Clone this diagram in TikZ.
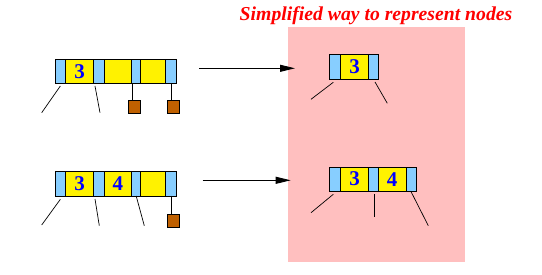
\documentclass[tikz,border=0pt]{standalone}
\usepackage{fontspec}
\setmainfont{Liberation Serif}
\usetikzlibrary{arrows.meta}
\definecolor{pinkbg}{HTML}{FFBFBF}
\definecolor{ltblue}{HTML}{87CEFF}
\definecolor{brownsq}{HTML}{BF6000}
\definecolor{numblue}{HTML}{0000FF}
\tikzset{
  bcell/.style={draw=black, line width=0.8pt, fill=ltblue, inner sep=0pt, outer sep=0pt, anchor=north west},
  ycell/.style={draw=black, line width=0.8pt, fill=yellow, inner sep=0pt, outer sep=0pt, anchor=north west,
    font=\fontsize{21}{21}\selectfont\bfseries, text=numblue},
  sq/.style={draw=black, line width=0.6pt, fill=brownsq, inner sep=0pt, outer sep=0pt, anchor=north west,
    minimum width=12.4pt, minimum height=12.6pt},
  ptr/.style={draw=black, line width=0.7pt},
  arr/.style={draw=black, line width=0.9pt, -{Triangle[length=15pt,width=7pt]}},
  title/.style={font=\fontsize{19.7}{20}\selectfont\bfseries\itshape, text=red, anchor=base, inner sep=0pt}
}
\begin{document}
\begin{tikzpicture}[x=1pt,y=-1pt]
\useasboundingbox (0,0) rectangle (542,275);
\fill[white] (0,0) rectangle (542,275);
\fill[pinkbg] (288,27) rectangle (465,261.7);
\node[title] (title) at (376,20.8) {Simplified way to represent nodes};

% top-left node
\node[bcell, minimum width=10.7pt, minimum height=24pt] (tlb1) at (55,59.3) {};
\node[ycell, minimum width=27.6pt, minimum height=24pt] (tly1) at (65.7,59.3) {3};
\node[bcell, minimum width=10.7pt, minimum height=24pt] (tlb2) at (93.3,59.3) {};
\node[ycell, minimum width=27.7pt, minimum height=24pt] (tly2) at (104,59.3) {};
\node[bcell, minimum width=9pt, minimum height=24pt] (tlb3) at (131.7,59.3) {};
\node[ycell, minimum width=25pt, minimum height=24pt] (tly3) at (140.7,59.3) {};
\node[bcell, minimum width=11pt, minimum height=24pt] (tlb4) at (165.7,59.3) {};
\node[sq] (tlsq1) at (128.3,100.7) {};
\node[sq] (tlsq2) at (167.3,100.7) {};
\coordinate (tlc1) at (41.7,112.7);
\coordinate (tlc2) at (100,112.7);
\draw[ptr] ([yshift=-2.7pt]tlb1.south) -- (tlc1);
\draw[ptr] ([xshift=1.7pt,yshift=-2.7pt]tlb2.south west) -- (tlc2);
\draw[ptr] ([xshift=-2pt]tlsq1.north) -- ([xshift=-2pt]tlsq1.north |- tlb3.south);
\draw[ptr] (tlb4.south) -- (tlb4.south |- tlsq2.north);

% bottom-left node
\node[bcell, minimum width=10.7pt, minimum height=24.3pt] (blb1) at (55,171.7) {};
\node[ycell, minimum width=27.6pt, minimum height=24.3pt] (bly1) at (65.7,171.7) {3};
\node[bcell, minimum width=10.7pt, minimum height=24.3pt] (blb2) at (93.3,171.7) {};
\node[ycell, minimum width=27.7pt, minimum height=24.3pt] (bly2) at (104,171.7) {4};
\node[bcell, minimum width=9pt, minimum height=24.3pt] (blb3) at (131.7,171.7) {};
\node[ycell, minimum width=25pt, minimum height=24.3pt] (bly3) at (140.7,171.7) {};
\node[bcell, minimum width=11pt, minimum height=24.3pt] (blb4) at (165.7,171.7) {};
\node[sq] (blsq) at (167.3,214.3) {};
\coordinate (blc1) at (41.7,225);
\coordinate (blc2) at (99.3,225.7);
\coordinate (blc3) at (144.3,225.7);
\draw[ptr] ([yshift=-3.3pt]blb1.south) -- (blc1);
\draw[ptr] ([xshift=1.7pt,yshift=-3pt]blb2.south west) -- (blc2);
\draw[ptr] (blb3.south) -- (blc3);
\draw[ptr] (blb4.south) -- (blb4.south |- blsq.north);

% top-right node
\node[bcell, minimum width=11.4pt, minimum height=25pt] (trb1) at (329.3,54.3) {};
\node[ycell, minimum width=27.6pt, minimum height=25pt] (try1) at (340.7,54.3) {3};
\node[bcell, minimum width=10.4pt, minimum height=25pt] (trb2) at (368.3,54.3) {};
\coordinate (trc1) at (311,99.3);
\coordinate (trc2) at (387.3,103.3);
\draw[ptr] ([xshift=4pt,yshift=-3pt]trb1.south west) -- (trc1);
\draw[ptr] ([xshift=6.7pt,yshift=-2.7pt]trb2.south west) -- (trc2);

% bottom-right node
\node[bcell, minimum width=11.4pt, minimum height=23.7pt] (brb1) at (329.3,167.3) {};
\node[ycell, minimum width=27.6pt, minimum height=23.7pt] (bry1) at (340.7,167.3) {3};
\node[bcell, minimum width=10pt, minimum height=23.7pt] (brb2) at (368.3,167.3) {};
\node[ycell, minimum width=27.7pt, minimum height=23.7pt] (bry2) at (378.3,167.3) {4};
\node[bcell, minimum width=10.7pt, minimum height=23.7pt] (brb3) at (406,167.3) {};
\coordinate (brc1) at (311,212.7);
\coordinate (brc2) at (374.7,216.7);
\coordinate (brc3) at (428.3,225.7);
\draw[ptr] ([xshift=4pt,yshift=-3.3pt]brb1.south west) -- (brc1);
\draw[ptr] ([xshift=1.4pt,yshift=-3.3pt]brb2.south) -- (brc2);
\draw[ptr] ([xshift=4.7pt]brb3.south west) -- (brc3);

% arrows
\coordinate (a1s) at (199,68.3);
\coordinate (a1e) at (295,68.3);
\coordinate (a2s) at (202.7,180.3);
\coordinate (a2e) at (290.7,180.3);
\draw[arr] (a1s) -- (a1e);
\draw[arr] (a2s) -- (a2e);
\end{tikzpicture}
\end{document}
